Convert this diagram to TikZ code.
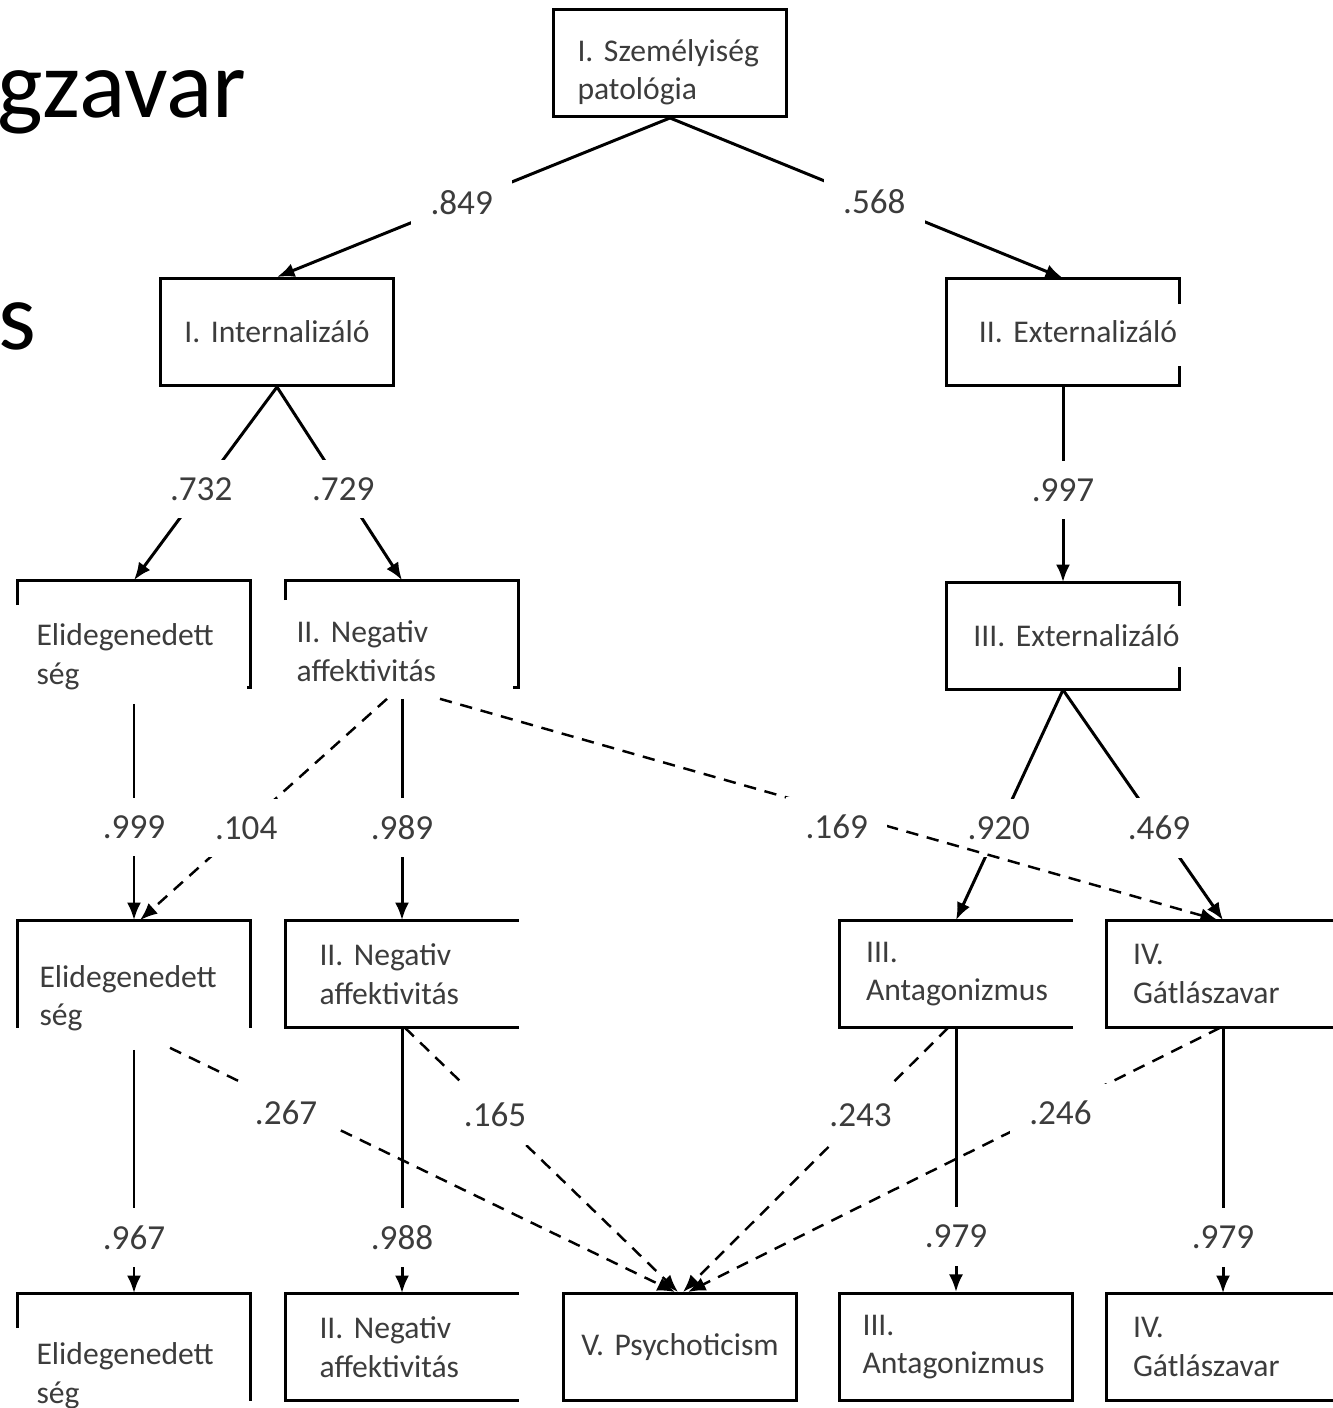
\documentclass[tikz,border=0pt]{standalone}
\usepackage{fontspec}
\setmainfont{Carlito}
\usetikzlibrary{arrows.meta}
\frenchspacing
\definecolor{txt}{HTML}{3C3C3C}
\newcommand\cellfont{\fontsize{18}{22}\selectfont}
\newcommand\wtfont{\fontsize{20}{24}\selectfont}
\newcommand\bigfont{\fontsize{55}{64}\selectfont}
\tikzset{
  cell/.style={minimum width=4.66cm, minimum height=2.14cm, inner sep=0pt,
               text width=#1, align=left, font=\cellfont, text=txt},
  cell/.default=3.7cm,
  box/.style={cell=#1, draw, line width=1.7pt},
  box/.default=3.7cm,
  low/.style={text height=#1, text depth=17pt},
  low/.default=30pt,
  frame/.style={line width=1.7pt},
  link/.style={line width=1.7pt, -{Latex[length=10pt,width=8pt]}},
  dlink/.style={link, line width=1.4pt, dash pattern=on 7pt off 5pt},
  wt/.style={fill=white, inner xsep=11pt, inner ysep=10pt, font=\wtfont, text=txt}
}
\begin{document}
\begin{tikzpicture}[x=0.02cm, y=-0.02cm]
    \useasboundingbox (0,0) rectangle (1332,1408);
    % cut title
    \node[anchor=base west, inner sep=0pt, font=\bigfont] (ttl) at (-3,118) {gzavar};
    \node[anchor=base west, inner sep=0pt, font=\bigfont] (ttls) at (-2,350) {s};

    % level 1 and 2
    \node[box, low=15pt] (top) at (670,63) {I. Személyiség\\patológia};
    \node[box=4.3cm, align=center] (int) at (277,332) {I. Internalizáló};
    \node[cell=4.56cm, align=right] (ext2) at (1063,332) {II. Externalizáló};

    % level 3
    \node[cell=3.9cm, low] (eli3) at (134,634) {Elidegenedett\\ség};
    \node[cell=4.22cm, low=27pt] (neg3) at (402,634) {II. Negativ\\affektivitás};
    \node[cell=4.66cm, align=right] (ext3) at (1063,636) {III. Externalizáló};

    % level 4
    \node[cell=3.78cm, low=32pt] (eli4) at (134,974) {Elidegenedett\\ség};
    \node[cell=3.3cm] (neg4) at (402,974) {II. Negativ\\affektivitás};
    \node[cell=3.6cm] (ant4) at (956,974) {III.\\Antagonizmus};
    \node[cell=3.6cm] (gat4) at (1223,974) {IV.\\Gátlászavar};

    % level 5
    \node[cell=3.9cm, low=37pt] (eli5) at (134,1347) {Elidegenedett\\ség};
    \node[cell=3.3cm] (neg5) at (402,1347) {II. Negativ\\affektivitás};
    \node[box=4.3cm, align=center] (psy) at (680,1347) {V. Psychoticism};
    \node[box=3.74cm] (ant5) at (956,1347) {III.\\Antagonizmus};
    \node[cell=3.6cm] (gat5) at (1223,1347) {IV.\\Gátlászavar};

    % broken frames
    \draw[frame] (ext2.north east) ++(0,26) -- (ext2.north east) -- (ext2.north west) -- (ext2.south west) -- (ext2.south east) -- ++(0,-20);
    \draw[frame] (ext3.north east) ++(0,24) -- (ext3.north east) -- (ext3.north west) -- (ext3.south west) -- (ext3.south east) -- ++(0,-23);
    \draw[frame] (eli3.north west) ++(0,25) -- (eli3.north west) -- (eli3.north east) -- (eli3.south east) -- ++(-4,0);
    \draw[frame] (neg3.north west) ++(0,20) -- (neg3.north west) -- (neg3.north east) -- (neg3.south east) -- ++(-6,0);
    \draw[frame] (eli4.south west) -- (eli4.north west) -- (eli4.north east) -- (eli4.south east);
    \draw[frame] (eli5.north west) ++(0,35) -- (eli5.north west) -- (eli5.north east) -- (eli5.south east);
    \foreach \n in {neg4, ant4, gat4, neg5, gat5}
        \draw[frame] (\n.north east) -- (\n.north west) -- (\n.south west) -- (\n.south east);

    % loadings
    \draw[link] (top.south) -- node[wt, pos=0.53] (l849) {.849} (int.north);
    \draw[link] (top.south) -- node[wt, pos=0.52] (l568) {.568} (ext2.north);
    \draw[link] (int.south) -- node[wt, pos=0.53] (l732) {.732} (eli3.north);
    \draw[link] (int.south) -- node[wt, pos=0.53] (l729) {.729} (neg3.north);
    \draw[link] (ext2.south) -- node[wt, pos=0.53] (l997) {.997} (ext3.north);
    \draw[link, shorten <=0.32cm] (eli3.south) -- node[wt, pos=0.6] (l999) {.999} (eli4.north);
    \draw[dlink] ([xshift=-0.3cm, yshift=-0.22cm]neg3.south) -- node[wt, pos=0.57, yshift=-0.06cm] (l104) {.104} ([xshift=0.12cm]eli4.north);
    \draw[link, shorten <=0.22cm] (neg3.south) -- node[wt, pos=0.6] (l989) {.989} (neg4.north);
    \draw[link] (ext3.south) -- node[wt, pos=0.6] (l920) {.920} (ant4.north);
    \draw[link] (ext3.south) -- node[wt, pos=0.6] (l469) {.469} (gat4.north);
    \draw[dlink] ([xshift=0.76cm, yshift=-0.22cm]neg3.south) -- node[wt, pos=0.51, yshift=-0.3cm] (l169) {.169} ([xshift=-0.1cm]gat4.north);

    \draw[link, shorten <=0.44cm] (eli4.south) -- node[wt, pos=0.79] (l967) {.967} (eli5.north);
    \draw[dlink] ([xshift=0.72cm, yshift=-0.4cm]eli4.south) -- node[wt, pos=0.23, yshift=-0.18cm] (l267) {.267} ([xshift=-0.1cm]psy.north);
    \draw[link] (neg4.south) -- node[wt, pos=0.79] (l988) {.988} (neg5.north);
    \draw[dlink] ([xshift=0.06cm]neg4.south) -- node[wt, pos=0.33] (l165) {.165} ([xshift=-0.04cm]psy.north);
    \draw[dlink] ([xshift=-0.16cm]ant4.south) -- node[wt, pos=0.33] (l243) {.243} ([xshift=0.06cm]psy.north);
    \draw[link] (ant4.south) -- node[wt, pos=0.79] (l979a) {.979} (ant5.north);
    \draw[dlink] ([xshift=-0.06cm]gat4.south) -- node[wt, pos=0.3, yshift=-0.12cm] (l246) {.246} ([xshift=0.16cm]psy.north);
    \draw[link] (gat4.south) -- node[wt, pos=0.79] (l979b) {.979} (gat5.north);
\end{tikzpicture}
\end{document}
